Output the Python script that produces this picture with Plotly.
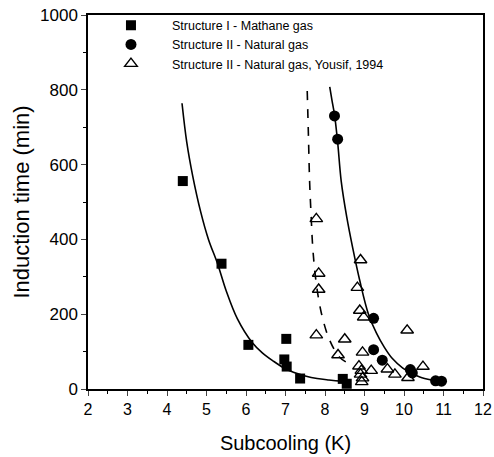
import plotly.graph_objects as go

# Structure I - methane gas (squares)
s1_x = [4.40, 5.38, 6.06, 7.02, 6.97, 7.03, 7.37, 8.45, 8.55]
s1_y = [556, 335, 118, 134, 79, 60, 28, 27, 14]

# Structure II - natural gas (filled circles)
s2_x = [8.24, 8.32, 9.23, 9.23, 9.45, 10.16, 10.21, 10.80, 10.95]
s2_y = [730, 668, 189, 105, 77, 52, 43, 22, 21]

# Structure II - natural gas, Yousif 1994 (open triangles)
y94_x = [7.78, 8.90, 7.84, 7.84, 8.82, 8.88, 8.98, 7.78, 8.50, 10.08, 8.33, 8.95,
         8.86, 8.92, 8.90, 8.95, 8.93, 9.17, 9.58, 9.77, 10.48, 10.10]
y94_y = [455, 345, 309, 266, 271, 210, 192, 144, 133, 157, 91, 98,
         61, 49, 39, 29, 19, 49, 53, 39, 60, 30]

# Trend curves
c1_x = [4.38, 4.50, 4.65, 4.85, 5.05, 5.28, 5.50, 5.78, 6.15, 6.42, 6.70, 6.95,
        7.20, 7.50, 7.80, 8.10, 8.40, 8.60]
c1_y = [764, 660, 570, 475, 400, 335, 262, 188, 125, 96, 74, 57,
        45, 35, 28, 24, 21, 20]

c2_x = [8.12, 8.18, 8.24, 8.32, 8.41, 8.55, 8.70, 8.88, 9.10, 9.30, 9.50, 9.70,
        9.97, 10.20, 10.40, 10.70, 11.00]
c2_y = [808, 770, 734, 660, 556, 460, 378, 290, 200, 150, 112, 82,
        56, 42, 32, 24, 19]

c3_x = [7.55, 7.58, 7.61, 7.65, 7.69, 7.77, 7.91, 8.12, 8.37, 8.60]
c3_y = [797, 680, 556, 460, 378, 290, 202, 130, 85, 68]

x_ticks = [2, 3, 4, 5, 6, 7, 8, 9, 10, 11, 12]
y_ticks = [0, 200, 400, 600, 800, 1000]

FONT = "Liberation Sans, Arial, Helvetica, sans-serif"

fig = go.Figure()

fig.add_trace(go.Scatter(x=c1_x, y=c1_y, mode="lines", line=dict(color="black", width=1.6, shape="spline"),
                         showlegend=False, hoverinfo="skip"))
fig.add_trace(go.Scatter(x=c2_x, y=c2_y, mode="lines", line=dict(color="black", width=1.6, shape="spline"),
                         showlegend=False, hoverinfo="skip"))
fig.add_trace(go.Scatter(x=c3_x, y=c3_y, mode="lines", line=dict(color="black", width=1.6, dash="dash", shape="spline"),
                         showlegend=False, hoverinfo="skip"))

fig.add_trace(go.Scatter(x=s1_x, y=s1_y, mode="markers", name="Structure I - Mathane gas",
                         marker=dict(symbol="square", size=10, color="black")))
fig.add_trace(go.Scatter(x=s2_x, y=s2_y, mode="markers", name="Structure II - Natural gas",
                         marker=dict(symbol="circle", size=11, color="black")))
fig.add_trace(go.Scatter(x=y94_x, y=y94_y, mode="markers", name="Structure II - Natural gas, Yousif, 1994",
                         marker=dict(symbol="triangle-up-open", size=11, color="black", line=dict(width=1.4))))

fig.update_layout(
    width=494, height=457,
    margin=dict(l=88, r=11, t=13, b=68),
    paper_bgcolor="white", plot_bgcolor="white",
    font=dict(family=FONT, color="black", size=14),
    legend=dict(x=0.005, y=1.012, xanchor="left", yanchor="top", bgcolor="rgba(0,0,0,0)",
                font=dict(size=12.5), tracegroupgap=0, itemsizing="trace", itemwidth=72),
    xaxis=dict(range=[2, 12], tickvals=x_ticks, ticks="outside", ticklen=5, tickwidth=1.3,
               automargin=False,
               showgrid=False, zeroline=False, showline=True, linecolor="black", linewidth=1.5, mirror=True,
               minor=dict(dtick=0.5, ticks="outside", ticklen=3, tickwidth=1.1, tickcolor="black"),
               tickfont=dict(size=16),
               title=dict(text="Subcooling (K)", font=dict(size=20), standoff=19)),
    yaxis=dict(range=[0, 1000], tickvals=y_ticks, ticks="outside", ticklen=5, tickwidth=1.3,
               automargin=False,
               showgrid=False, zeroline=False, showline=True, linecolor="black", linewidth=1.5, mirror=True,
               minor=dict(dtick=100, ticks="outside", ticklen=3, tickwidth=1.1, tickcolor="black"),
               tickfont=dict(size=17),
               title=dict(text="Induction time (min)", font=dict(size=22), standoff=4)),
)

fig.write_html("out.html", config={"displayModeBar": False},
               post_script="document.body.style.margin='0';")
